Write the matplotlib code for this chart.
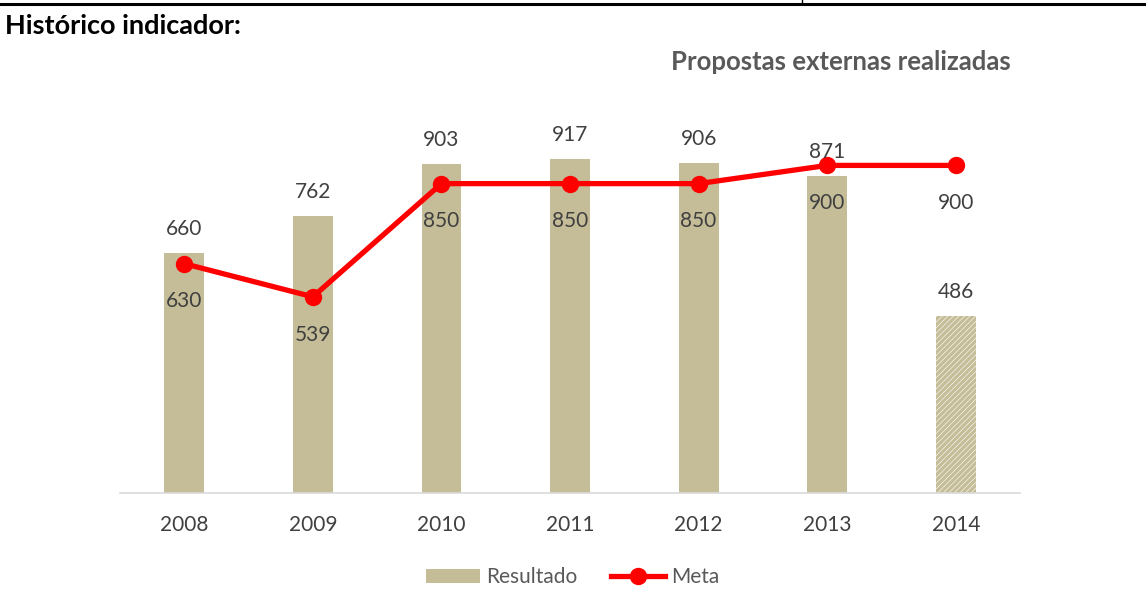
import numpy as np
import matplotlib
matplotlib.use("Agg")
from matplotlib import pyplot as plt
from matplotlib.patches import Patch
from matplotlib.lines import Line2D

anos = ['2008', '2009', '2010', '2011', '2012', '2013', '2014']
resultado = [660, 762, 903, 917, 906, 871, 486]
meta = [630, 539, 850, 850, 850, 900, 900]

BAR = '#C4BD97'
RED = '#FF0000'
TXT = '#404040'

plt.rcParams['font.family'] = ['Lato', 'DejaVu Sans']
plt.rcParams['hatch.linewidth'] = 2.4
plt.rcParams['hatch.color'] = BAR

fig = plt.figure(figsize=(11.46, 6.12), dpi=100)
ax = fig.add_axes([0.1047, 0.1944, 0.7854, 0.5948])

x = np.arange(len(anos))
ax.bar(x[:-1], resultado[:-1], width=0.31, color=BAR, zorder=2)
# partial year drawn hatched
ax.bar(x[-1], resultado[-1], width=0.31, facecolor='white', edgecolor=BAR,
       linewidth=0, hatch='//////', zorder=2)

ax.plot(x, meta, color=RED, lw=3.8, marker='o', ms=11.5, zorder=3,
        solid_capstyle='round')

for i, v in enumerate(resultado):
    ax.annotate(str(v), (x[i], v), xytext=(0, 10), textcoords='offset points',
                ha='center', va='bottom', fontsize=15, color=TXT)
for i, v in enumerate(meta):
    ax.annotate(str(v), (x[i], v), xytext=(0, -20), textcoords='offset points',
                ha='center', va='top', fontsize=15, color=TXT)

ax.set_xlim(-0.5, len(anos) - 0.5)
ax.set_ylim(0, 1000)
ax.set_xticks(x)
ax.set_xticklabels(anos, fontsize=15, color=TXT)
ax.set_yticks([])
for s in ['top', 'right', 'left']:
    ax.spines[s].set_visible(False)
ax.spines['bottom'].set_color('#D9D9D9')
ax.spines['bottom'].set_linewidth(1.2)
ax.tick_params(axis='x', length=0, pad=16)

handles = [Patch(facecolor=BAR, edgecolor='none'),
           Line2D([0], [0], color=RED, lw=3.8, marker='o', ms=11.5)]
fig.legend(handles, ['Resultado', 'Meta'], loc='center', bbox_to_anchor=(0.5, 0.057),
           ncol=2, frameon=False, fontsize=15, labelcolor='#595959',
           handlelength=2.6, handletextpad=0.3, columnspacing=1.6)

fig.text(0.882, 0.898, 'Propostas externas realizadas', ha='right', va='center',
         fontsize=18.5, fontweight='bold', color='#595959')
fig.text(0.004, 0.957, 'Histórico indicador:', ha='left', va='center',
         fontsize=19.5, fontweight='bold', color='black')

# table frame lines at the top
fig.add_artist(Line2D([0, 1], [0.994, 0.994], color='black', lw=2.2,
                      transform=fig.transFigure))
fig.add_artist(Line2D([0.7, 0.7], [0.994, 1.0], color='black', lw=1.0,
                      transform=fig.transFigure))

fig.savefig('out.png', dpi=100, facecolor='white')
